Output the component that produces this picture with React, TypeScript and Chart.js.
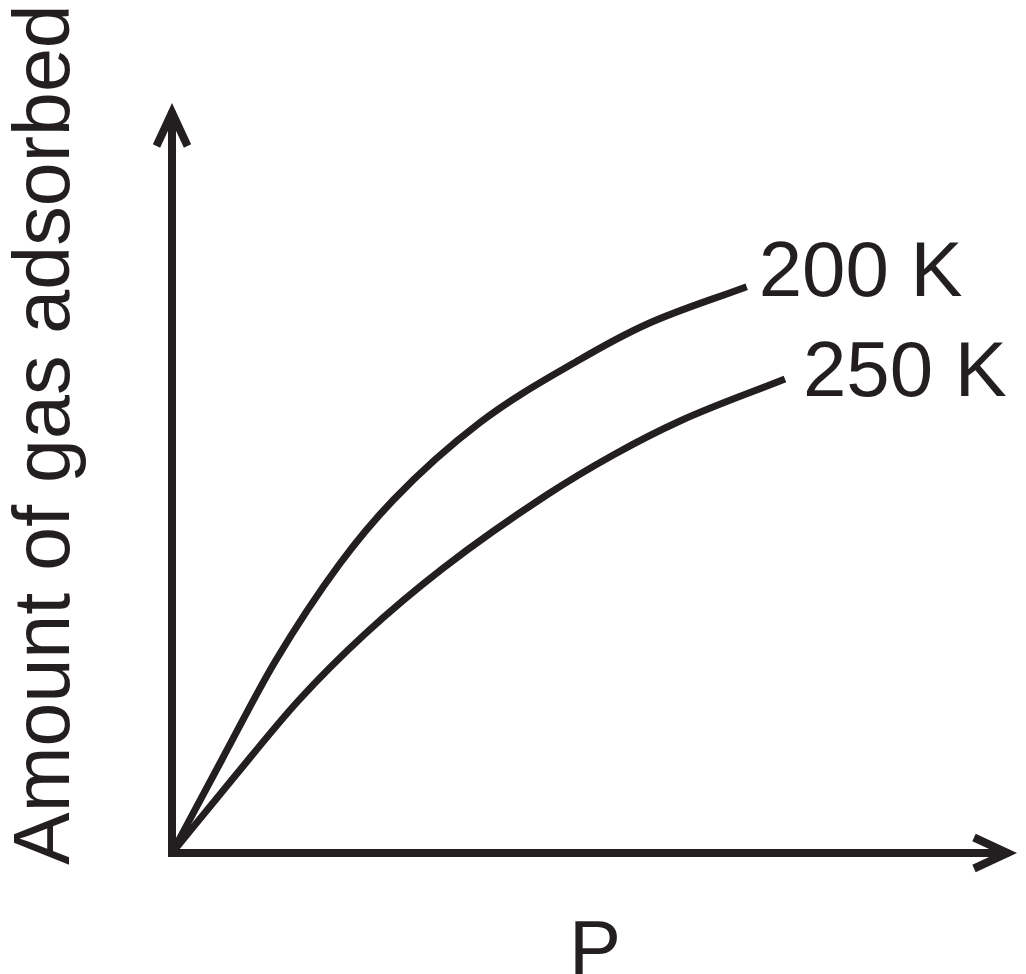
import React, { useEffect, useRef } from "react";
import { Chart, registerables } from "chart.js";

Chart.register(...registerables);

// Data (arbitrary units, x: pressure P, y: amount adsorbed)
const series200K_x = [0, 5.88, 12.19, 19.88, 26.19, 36.45, 48.28, 56.18, 68.01];
const series200K_y = [0, 12.4, 25.5, 38.6, 47.07, 57.4, 65.8, 70.5, 75.51];
const series250K_x = [0, 7.07, 14.95, 22.84, 32.11, 44.34, 52.22, 60.12, 72.54];
const series250K_y = [0, 9.73, 20.3, 29.2, 38.0, 47.73, 53.07, 57.6, 63.2];
const seriesLabels = ["200 K", "250 K"];
const xAxisTitle = "P";
const yAxisTitle = "Amount of gas adsorbed";

const INK = "#231f20";
const FONT = '"Liberation Sans", Arial, sans-serif';

function toPoints(xs: number[], ys: number[]) {
  return xs.map((x, i) => ({ x, y: ys[i] }));
}

const labelOffsets = [
  { dx: 12, dy: 9 },
  { dx: 18, dy: 17 },
];

const diagramPlugin = {
  id: "diagram",
  afterDatasetsDraw(chart: any) {
    const ctx = chart.ctx as CanvasRenderingContext2D;
    const xs = chart.scales.x;
    const ys = chart.scales.y;
    const x0 = xs.getPixelForValue(0);
    const y0 = ys.getPixelForValue(0);
    const xEnd = xs.getPixelForValue(xs.max);
    const yEnd = ys.getPixelForValue(ys.max);
    ctx.save();
    ctx.strokeStyle = INK;
    ctx.fillStyle = INK;
    // axes
    ctx.lineWidth = 8;
    ctx.lineCap = "butt";
    ctx.beginPath();
    ctx.moveTo(x0, y0 + 4);
    ctx.lineTo(x0, yEnd + 8);
    ctx.moveTo(x0 - 4, y0);
    ctx.lineTo(xEnd - 8, y0);
    ctx.stroke();
    // arrowheads
    ctx.lineJoin = "miter";
    ctx.miterLimit = 10;
    ctx.beginPath();
    ctx.moveTo(x0 - 15.5, yEnd + 43);
    ctx.lineTo(x0, yEnd + 9.5);
    ctx.lineTo(x0 + 15.5, yEnd + 43);
    ctx.stroke();
    ctx.beginPath();
    ctx.moveTo(xEnd - 43, y0 - 15.5);
    ctx.lineTo(xEnd - 9.5, y0);
    ctx.lineTo(xEnd - 43, y0 + 15.5);
    ctx.stroke();
    // series labels at curve ends
    ctx.font = `78px ${FONT}`;
    ctx.textAlign = "left";
    ctx.textBaseline = "alphabetic";
    chart.data.datasets.forEach((ds: any, i: number) => {
      const meta = chart.getDatasetMeta(i);
      const last = meta.data[meta.data.length - 1];
      const off = labelOffsets[i];
      ctx.fillText(ds.label, last.x + off.dx, last.y + off.dy);
    });
    // axis titles
    ctx.font = `78px ${FONT}`;
    ctx.fillText(xAxisTitle, 569, 975);
    ctx.save();
    ctx.translate(69, 865);
    ctx.rotate(-Math.PI / 2);
    ctx.font = `79px ${FONT}`;
    ctx.fillText(yAxisTitle, 0, 0);
    ctx.restore();
    ctx.restore();
  },
};

export default function App() {
  const ref = useRef<HTMLCanvasElement | null>(null);
  useEffect(() => {
    if (!ref.current) return;
    const common = {
      borderColor: INK,
      borderWidth: 7,
      pointRadius: 0,
      cubicInterpolationMode: "monotone" as const,
      borderCapStyle: "butt" as const,
      borderJoinStyle: "round" as const,
      fill: false,
      clip: false as any,
    };
    const chart = new Chart(ref.current, {
      type: "line",
      data: {
        datasets: [
          { ...common, label: seriesLabels[0], data: toPoints(series200K_x, series200K_y) },
          { ...common, label: seriesLabels[1], data: toPoints(series250K_x, series250K_y) },
        ],
      },
      options: {
        animation: false,
        responsive: false,
        devicePixelRatio: 1,
        layout: { padding: { left: 172, right: 9, top: 103, bottom: 121 } },
        scales: {
          x: { type: "linear", min: 0, max: 100, display: false },
          y: { type: "linear", min: 0, max: 100, display: false },
        },
        plugins: {
          legend: { display: false },
          tooltip: { enabled: false },
        },
        events: [],
      },
      plugins: [diagramPlugin],
    });
    return () => chart.destroy();
  }, []);
  return (
    <div style={{ position: "absolute", left: 0, top: 0, width: 1026, height: 974, background: "#fff" }}>
      <canvas ref={ref} width={1026} height={974} style={{ display: "block", width: 1026, height: 974 }} />
    </div>
  );
}
